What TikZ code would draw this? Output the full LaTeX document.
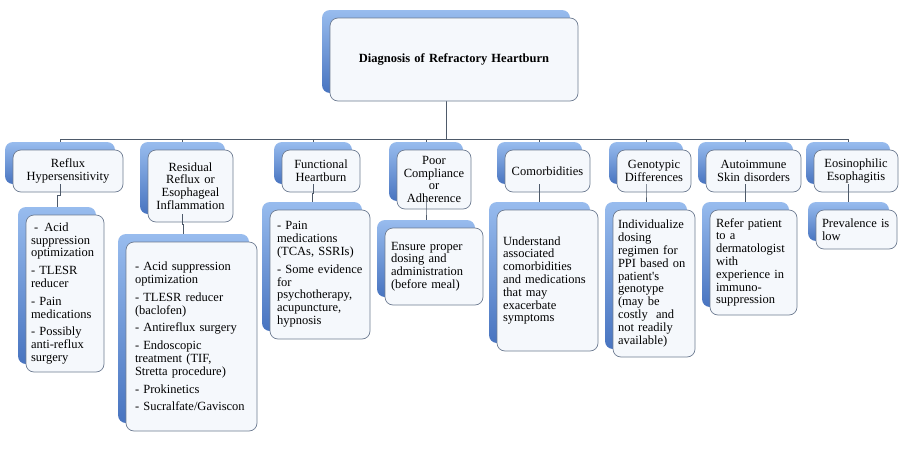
\documentclass[tikz,border=0pt]{standalone}
\usepackage{fontspec}
\setmainfont{Liberation Serif}
\usetikzlibrary{calc}
\definecolor{shTop}{RGB}{152,188,238}
\definecolor{shBot}{RGB}{72,116,192}
\definecolor{frFill}{RGB}{245,248,252}
\definecolor{frLine}{RGB}{110,124,146}
\definecolor{connC}{RGB}{78,90,106}
\tikzset{
  shadowbox/.style={rounded corners=8pt, top color=shTop, bottom color=shBot, draw=none, inner sep=0pt},
  frontbox/.style={rounded corners=8pt, fill=frFill, draw=frLine, line width=0.7pt, inner ysep=2pt,
     font=\fontsize{12.5}{12.8}\selectfont},
  conn/.style={draw=connC, line width=0.9pt},
}
% name, x1, y1, x2, y2, align, pad, text
\newcommand{\mkbox}[8]{%
  \pgfmathsetmacro\myCX{(#2+#4)/2}%
  \pgfmathsetmacro\myCY{(#3+#5)/2}%
  \pgfmathsetmacro\myBW{#4-#2}%
  \pgfmathsetmacro\myBH{#5-#3}%
  \pgfmathsetmacro\myTW{#4-#2-2*#7}%
  \node[shadowbox, minimum width=\myBW pt, minimum height=\myBH pt] (#1s) at (\myCX-8,\myCY-8) {};
  \node[frontbox, align=#6, inner xsep=#7pt, text width=\myTW pt, minimum width=\myBW pt, minimum height=\myBH pt] (#1) at (\myCX,\myCY) {#8};
}
\begin{document}
\begin{tikzpicture}[x=1pt,y=-1pt]
\useasboundingbox[fill=white] (0,0) rectangle (899,474);
% connectors drawn first (hidden behind boxes)
\coordinate (bus) at (446,139);
\coordinate (topbot) at (446,94);
\coordinate (h1n) at (60,142);   \coordinate (h2n) at (182,142);
\coordinate (h3n) at (313,142);  \coordinate (h4n) at (426,142);
\coordinate (h5n) at (539,142);  \coordinate (h6n) at (646,142);
\coordinate (h7n) at (745,142);  \coordinate (h8n) at (848,142);
\foreach \h in {h1n,h2n,h3n,h4n,h5n,h6n,h7n,h8n} { \draw[conn] (bus) -| (\h); }
\draw[conn] (topbot) -- (bus);
% top box
\mkbox{top}{330}{18}{578}{101}{center}{6}{\textbf{Diagnosis of Refractory Heartburn}}
% headers
\mkbox{h1}{13}{150}{123}{192}{center}{3}{Reflux\\Hypersensitivity}
\mkbox{h2}{148}{150}{233}{222}{center}{3}{Residual\\Reflux or\\Esophageal\\Inflammation}
\mkbox{h3}{282}{150}{360}{192}{center}{3}{Functional\\Heartburn}
\mkbox{h4}{397}{150}{471}{209}{center}{3}{Poor\\Compliance\\or\\Adherence}
\mkbox{h5}{505}{150}{590}{192}{center}{3}{Comorbidities}
\mkbox{h6}{617}{150}{691}{192}{center}{3}{Genotypic\\Differences}
\mkbox{h7}{706}{150}{801}{192}{center}{3}{Autoimmune\\Skin disorders}
\mkbox{h8}{814}{150}{898}{192}{center}{3}{Eosinophilic\\Esophagitis}
% header to child connectors (hidden behind child boxes)
\coordinate (c1n) at (57,207);  \coordinate (c2n) at (183,234);
\coordinate (c3n) at (312,202); \coordinate (c4n) at (426,220);
\coordinate (c5n) at (539,202); \coordinate (c6n) at (646,202);
\coordinate (c7n) at (745,202); \coordinate (c8n) at (848,202);
\foreach \i in {1,...,8} {
  \draw[conn] (h\i s.south) |- ($(h\i s.south)!.5!(c\i n)$) -| (c\i n);
}
% children
\mkbox{c1}{26}{215}{104}{372}{left}{5}{\hspace*{3pt}-\enspace Acid\\suppression\\optimization\\[5pt]- TLESR\\reducer\\[5pt]- Pain\\medications\\[5pt]- Possibly\\anti-reflux\\surgery}
\mkbox{c2}{126}{242}{257}{431}{left}{9}{- Acid suppression\\optimization\\[5pt]- TLESR reducer\\(baclofen)\\[5pt]- Antireflux surgery\\[5pt]- Endoscopic\\treatment (TIF,\\Stretta procedure)\\[5pt]- Prokinetics\\[5pt]- Sucralfate/Gaviscon}
\mkbox{c3}{270}{210}{370}{339}{left}{7}{- Pain\\medications\\(TCAs, SSRIs)\\[5pt]- Some evidence\\for\\psychotherapy,\\acupuncture,\\hypnosis}
\mkbox{c4}{385}{228}{483}{305}{left}{6}{Ensure proper\\dosing and\\administration\\(before meal)}
\mkbox{c5}{497}{210}{598}{351}{left}{6}{Understand\\associated\\comorbidities\\and medications\\that may\\exacerbate\\symptoms}
\mkbox{c6}{613}{210}{695}{357}{left}{5}{Individualize\\dosing\\regimen for\\PPI based on\\patient\textquotesingle s\\genotype\\(may be\\costly\ \ and\\not readily\\available)}
\mkbox{c7}{710}{210}{797}{315}{left}{6}{Refer patient\\to a\\dermatologist\\with\\experience in\\immuno-\\suppression}
\mkbox{c8}{816}{210}{897}{249}{left}{6}{Prevalence is\\low}
\end{tikzpicture}
\end{document}
